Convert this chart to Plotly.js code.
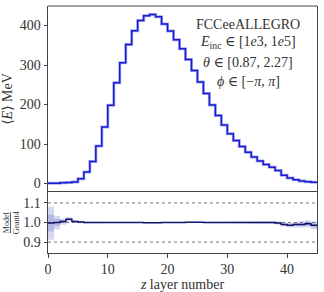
<!DOCTYPE html>
<html><head><meta charset="utf-8">
<script src="https://cdn.plot.ly/plotly-3.0.1.min.js"></script>
<style>html,body{margin:0;padding:0;background:#fff}#plot{width:324px;height:292px}</style>
</head><body><div id="plot"></div>
<script>
// bin edges 0..45 (layer numbers)
const layerEdges = Array.from({length:46},(_,i)=>i);
// mean energy per layer (MeV), 45 layers
const geant4Energy = [0.5,1,2,2.5,4,12,29,56,95,143,198,255,306,352,387,413,425,428,422,404,386,364,341,314,286,257,228,199,172,148,126,109,94,79,67,57,48,41,33,21,14,9.5,6.5,4.5,3];
const modelEnergy  = [0.5,1,2,2.5,4,12,29,56,95,143,198,255,306,352,387,413,425,428,422,404,386,364,341,314,286,257,228,199,172,148,126,109,94,79,67,57,48,41,33,21,14,9.5,6.5,4.5,3];
// ratio model / geant4 and its uncertainty
const ratio = [0.997,1.0,1.005,1.017,1.005,1.002,1.0,1.0,1.0,1.0,1.0,1.0,1.0,1.0,1.0,1.0,0.999,0.999,0.999,1.0,1.0,1.0,1.0,1.001,1.001,1.001,1.0,1.0,1.0,1.0,1.0,1.0,1.0,1.0,1.0,1.0,1.0,1.0,0.998,0.99,0.986,0.99,0.99,0.994,0.986];
const ratioErr = [0.085,0.035,0.016,0.011,0.008,0.006,0.005,0.004,0.004,0.003,0.003,0.003,0.003,0.003,0.003,0.003,0.003,0.003,0.003,0.003,0.003,0.003,0.003,0.003,0.003,0.003,0.004,0.004,0.004,0.004,0.005,0.005,0.005,0.006,0.006,0.007,0.007,0.008,0.009,0.01,0.012,0.014,0.016,0.018,0.02];
const ratioErrInner = ratioErr.map(e=>e*0.5);
const infoLines = ["FCCeeALLEGRO","<i>E</i><sub>inc</sub> ∈ [1<i>e</i>3, 1<i>e</i>5]","<i>θ</i> ∈ [0.87, 2.27]","<i>ϕ</i> ∈ [−<i>π</i>, <i>π</i>]"];

const ext = a => a.concat([a[a.length-1]]);
const F = "Liberation Serif, DejaVu Serif, serif";
const up = ratio.map((r,i)=>r+ratioErr[i]), lo = ratio.map((r,i)=>r-ratioErr[i]);
const up2 = ratio.map((r,i)=>r+ratioErrInner[i]), lo2 = ratio.map((r,i)=>r-ratioErrInner[i]);

const traces = [
  {x:layerEdges, y:ext(geant4Energy), mode:'lines', line:{shape:'hv', color:'#a7aef0', width:3}, xaxis:'x', yaxis:'y', hoverinfo:'skip'},
  {x:layerEdges, y:ext(modelEnergy), mode:'lines', line:{shape:'hv', color:'#1a1ad0', width:1.5}, xaxis:'x', yaxis:'y'},
  {x:layerEdges, y:ext(lo), mode:'lines', line:{shape:'hv', width:0}, xaxis:'x2', yaxis:'y2', hoverinfo:'skip'},
  {x:layerEdges, y:ext(up), mode:'lines', line:{shape:'hv', width:0}, fill:'tonexty', fillcolor:'rgba(120,125,200,0.3)', xaxis:'x2', yaxis:'y2', hoverinfo:'skip'},
  {x:layerEdges, y:ext(lo2), mode:'lines', line:{shape:'hv', width:0}, xaxis:'x2', yaxis:'y2', hoverinfo:'skip'},
  {x:layerEdges, y:ext(up2), mode:'lines', line:{shape:'hv', width:0}, fill:'tonexty', fillcolor:'rgba(120,125,200,0.35)', xaxis:'x2', yaxis:'y2', hoverinfo:'skip'},
  {x:layerEdges, y:ext(ratio), mode:'lines', line:{shape:'hv', color:'#14146e', width:1.5}, xaxis:'x2', yaxis:'y2'}
];

const axBase = {showline:true, mirror:true, linecolor:'#444', linewidth:1, showgrid:false, zeroline:false,
  ticks:'outside', ticklen:3.5, tickcolor:'#444', tickfont:{family:F, size:14, color:'#333'}};

const layout = {
  width:324, height:292, showlegend:false,
  margin:{l:48, r:7, t:6, b:39},
  paper_bgcolor:'#fff', plot_bgcolor:'#fff',
  font:{family:F, color:'#333'},
  xaxis:Object.assign({}, axBase, {domain:[0,1], range:[0,45], anchor:'y', matches:'x2', showticklabels:false, ticks:'', showline:false}),
  yaxis:Object.assign({}, axBase, {domain:[0.247,1], range:[-21.4,449.4], tickvals:[0,100,200,300,400], anchor:'x',
    title:{text:'⟨<i>E</i>⟩ MeV', font:{family:F, size:14, color:'#333'}, standoff:4}}),
  xaxis2:Object.assign({}, axBase, {domain:[0,1], range:[0,45], anchor:'y2', tickvals:[0,10,20,30,40],
    title:{text:'<i>z</i> layer number', font:{family:F, size:14, color:'#333'}, standoff:4}}),
  yaxis2:Object.assign({}, axBase, {domain:[0,0.247], range:[0.844,1.156], tickvals:[0.9,1.0,1.1], ticktext:['0.9','1.0','1.1'], anchor:'x2'}),
  shapes:[0.9,1.0,1.1].map(v=>({type:'line', xref:'x2 domain', x0:0, x1:1, yref:'y2', y0:v, y1:v, line:{color:'#777', width:1, dash:'dot'}, layer:'below'}))
    .concat([{type:'line', xref:'paper', yref:'paper', x0:0, x1:1, y0:1, y1:1, line:{color:'#444', width:1}}]),
  annotations: infoLines.map((t,i)=>({text:t, xref:'paper', yref:'paper', x:0.745, y:1 - (18 + i*19)/247, xanchor:'center', yanchor:'middle', showarrow:false, font:{family:F, size:14, color:'#333'}}))
    .concat([{text:'<u>Model</u><br>Geant4', xref:'paper', yref:'paper', x:-0.135, y:0.123, xanchor:'center', yanchor:'middle', textangle:-90, showarrow:false, font:{family:F, size:8, color:'#333'}}])
};

Plotly.newPlot('plot', traces, layout, {staticPlot:true, displayModeBar:false});
</script></body></html>
